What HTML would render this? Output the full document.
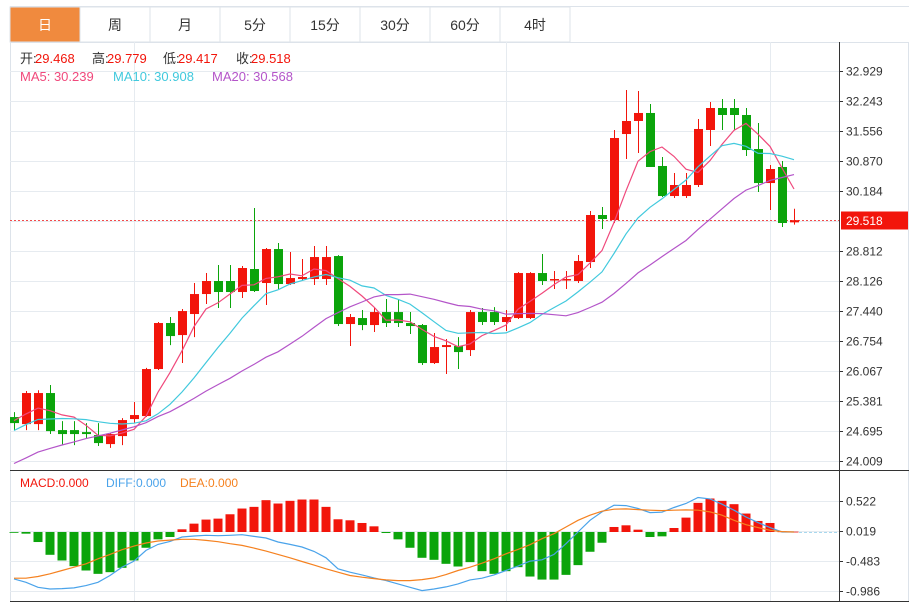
<!DOCTYPE html>
<html><head><meta charset="utf-8"><style>
body{margin:0;background:#fff;width:919px;height:604px;overflow:hidden;font-family:"Liberation Sans","Noto Sans CJK SC",sans-serif}
svg{display:block}
</style></head><body>
<svg id="chart" width="919" height="604" xmlns="http://www.w3.org/2000/svg" font-family="Liberation Sans, Noto Sans CJK SC, sans-serif"></svg>
<script>
const tabLabels=["日","周","月","5分","15分","30分","60分","4时"];
const priceTicks=[32.929,32.243,31.556,30.870,30.184,28.812,28.126,27.440,26.754,26.067,25.381,24.695,24.009];
const macdTicks=[0.522,0.019,-0.483,-0.986];
const openP=[25.016,24.855,24.855,25.565,24.718,24.718,24.672,24.604,24.398,24.581,24.970,25.039,26.114,27.166,26.891,27.372,27.829,28.127,28.127,27.875,28.401,28.081,28.858,28.058,28.172,28.172,28.172,28.698,27.143,27.280,27.120,27.417,27.417,27.166,27.120,26.251,26.617,26.640,26.548,27.417,27.417,27.189,27.280,27.280,28.309,28.149,28.149,28.127,28.561,29.636,29.521,31.488,31.786,31.969,30.757,30.070,30.070,30.322,31.580,32.083,32.083,31.923,31.145,30.367,30.734,29.468];
const highP=[25.130,25.611,25.630,25.748,24.924,24.924,24.878,24.878,24.650,24.990,25.360,26.140,27.189,27.303,27.486,28.081,28.309,28.493,28.493,28.470,29.796,28.881,28.995,28.790,28.630,28.927,28.927,28.720,27.372,27.463,27.532,27.715,27.715,27.417,27.143,26.937,26.800,26.845,27.463,27.509,27.530,27.463,28.330,28.330,28.744,28.355,28.355,28.721,29.727,29.819,31.580,32.495,32.472,32.175,30.962,30.596,30.596,31.832,32.220,32.289,32.289,32.083,31.740,30.780,30.871,29.779];
const lowP=[24.718,24.718,24.718,24.627,24.375,24.375,24.535,24.353,24.310,24.375,24.878,25.016,26.091,26.662,26.251,26.845,27.600,27.509,27.509,27.738,27.875,27.577,27.943,28.035,28.127,28.035,28.035,27.097,26.640,27.005,26.960,27.074,27.074,26.914,26.205,26.228,25.999,26.114,26.411,27.120,27.120,26.983,27.257,27.257,28.035,27.943,27.943,28.081,28.424,29.316,29.453,30.917,31.054,30.734,30.047,30.024,30.024,30.276,31.214,31.580,31.580,30.985,30.162,29.750,29.361,29.417];
const closeP=[24.878,25.565,25.565,24.695,24.627,24.627,24.627,24.421,24.627,24.947,25.062,26.114,27.166,26.868,27.440,27.829,28.127,27.875,27.875,28.424,27.898,28.858,28.058,28.195,28.218,28.675,28.675,27.143,27.303,27.120,27.417,27.166,27.166,27.097,26.251,26.617,26.662,26.502,27.417,27.189,27.189,27.303,28.309,28.309,28.127,28.172,28.172,28.584,29.636,29.544,31.397,31.786,31.969,30.734,30.070,30.322,30.322,31.603,32.083,31.923,31.923,31.122,30.367,30.688,29.453,29.518];
const priorCloses=[23.0,22.9,23.0,23.1,23.2,23.1,23.2,23.4,23.5,23.6,24.2,24.4,24.6,24.5,24.7,24.8,24.9,25.0,25.1];
const macdHist=[-0.011,-0.028,-0.168,-0.382,-0.477,-0.572,-0.645,-0.701,-0.673,-0.600,-0.477,-0.264,-0.123,-0.084,0.045,0.140,0.208,0.224,0.297,0.393,0.421,0.533,0.477,0.522,0.544,0.544,0.421,0.213,0.196,0.151,0.095,-0.017,-0.123,-0.264,-0.432,-0.466,-0.533,-0.578,-0.505,-0.656,-0.701,-0.656,-0.589,-0.746,-0.797,-0.797,-0.718,-0.555,-0.331,-0.180,0.084,0.112,0.039,-0.084,-0.073,0.067,0.241,0.488,0.561,0.522,0.466,0.309,0.185,0.151,0.011,0.006];
const diffV=[-0.786,-0.842,-0.926,-0.954,-0.948,-0.937,-0.898,-0.842,-0.729,-0.589,-0.488,-0.309,-0.208,-0.157,-0.084,-0.067,-0.056,-0.062,-0.056,-0.045,-0.073,-0.101,-0.168,-0.208,-0.252,-0.325,-0.432,-0.617,-0.673,-0.718,-0.769,-0.814,-0.870,-0.926,-0.982,-0.954,-0.920,-0.870,-0.802,-0.774,-0.718,-0.645,-0.572,-0.488,-0.466,-0.376,-0.196,0,0.196,0.337,0.449,0.443,0.393,0.325,0.331,0.410,0.477,0.578,0.555,0.466,0.365,0.252,0.157,0.073,0,0];
const deaV=[-0.774,-0.774,-0.746,-0.701,-0.645,-0.589,-0.533,-0.449,-0.376,-0.297,-0.236,-0.185,-0.151,-0.135,-0.123,-0.123,-0.140,-0.163,-0.196,-0.224,-0.269,-0.320,-0.376,-0.432,-0.494,-0.555,-0.617,-0.673,-0.729,-0.757,-0.780,-0.802,-0.814,-0.814,-0.797,-0.769,-0.713,-0.645,-0.589,-0.522,-0.449,-0.365,-0.292,-0.213,-0.112,-0.028,0.084,0.196,0.281,0.348,0.382,0.387,0.376,0.365,0.359,0.365,0.370,0.365,0.337,0.281,0.196,0.123,0.073,0.028,0.006,0];
const lastPrice=29.518;

const svg=document.getElementById('chart');
const NS='http://www.w3.org/2000/svg';
function mk(tag,attrs,parent){const e=document.createElementNS(NS,tag);for(const k in attrs)e.setAttribute(k,attrs[k]);(parent||svg).appendChild(e);return e;}
function txt(x,y,s,fill,size,parent){const t=mk('text',{x:x,y:y,fill:fill,'font-size':size},parent);t.textContent=s;return t;}
const xOf=i=>14+12*i;
const yP=v=>71+(32.929-v)/0.686*30;
const yM=v=>532-v*59.7;
const RED='#f2150b',GREEN='#0ba40b';

// tabs
const tabs=mk('g',{});


mk('line',{x1:10,y1:6.5,x2:909,y2:6.5,stroke:'#dde3ea'},tabs);
tabLabels.forEach((t,i)=>{
  const g=mk('g',{},tabs);
  
  
  mk('rect',{x:10+70*i,y:7,width:70,height:35,fill:i===0?'#f08a3e':'#fff',stroke:'#dde3ea','stroke-width':1},g);
  const tx=mk('text',{x:45+70*i,y:30,'text-anchor':'middle','font-size':14,fill:i===0?'#fff':'#333'},g);tx.textContent=t;
});
// frame
const frame=mk('g',{});


mk('line',{x1:10.5,y1:42,x2:10.5,y2:602,stroke:'#dde3ea'},frame);
mk('line',{x1:908.5,y1:42,x2:908.5,y2:602,stroke:'#dde3ea'},frame);
mk('line',{x1:10,y1:42.5,x2:909,y2:42.5,stroke:'#dde3ea'},frame);
// grids
const grid=mk('g',{});


for(let k=0;k<14;k++){const y=71+30*k+0.5;mk('line',{x1:10,y1:y,x2:839,y2:y,stroke:'#e6ebf0'},grid);}
[10,41,63].forEach(i=>{mk('line',{x1:xOf(i)+0.5,y1:42,x2:xOf(i)+0.5,y2:602,stroke:'#e6ebf0'},grid);});
macdTicks.forEach(v=>{const y=Math.round(yM(v))+0.5;mk('line',{x1:10,y1:y,x2:839,y2:y,stroke:'#e6ebf0'},grid);});
// axes
const axis=mk('g',{});


mk('line',{x1:839.5,y1:42,x2:839.5,y2:602,stroke:'#333'},axis);
mk('line',{x1:10,y1:470.5,x2:909,y2:470.5,stroke:'#333'},axis);
mk('line',{x1:10,y1:601.5,x2:909,y2:601.5,stroke:'#333'},axis);
priceTicks.forEach(v=>{const y=Math.round(yP(v));mk('line',{x1:839,y1:y+0.5,x2:843,y2:y+0.5,stroke:'#333'},axis);
  txt(846,y+4.5,v.toFixed(3),'#333',12,axis);});
macdTicks.forEach(v=>{const y=Math.round(yM(v));mk('line',{x1:839,y1:y+0.5,x2:843,y2:y+0.5,stroke:'#333'},axis);
  txt(846,y+4.5,v.toFixed(3),'#333',12,axis);});
// last price
const lp=mk('g',{});


const ly=Math.round(yP(lastPrice))+0.5;
mk('line',{x1:10,y1:ly,x2:839,y2:ly,stroke:'#f24a4a','stroke-dasharray':'2,2'},lp);
mk('rect',{x:841,y:ly-9,width:67,height:18,fill:RED},lp);
txt(846,ly+4.5,lastPrice.toFixed(3),'#fff',12,lp);
// candles
const cg=mk('g',{});


closeP.forEach((c,i)=>{
  const o=openP[i],up=c>=o,col=up?RED:GREEN,x=xOf(i);
  const g=mk('g',{},cg);
  
  
  mk('line',{x1:x+0.5,y1:yP(highP[i]),x2:x+0.5,y2:yP(lowP[i]),stroke:col},g);
  const t=yP(Math.max(o,c)),b=yP(Math.min(o,c));
  mk('rect',{x:x-4,y:t,width:9,height:Math.max(b-t,1.5),fill:col},g);
});
// moving averages
function ma(n){const all=priorCloses.concat(closeP),off=priorCloses.length;return closeP.map((_,i)=>{let s=0;for(let k=0;k<n;k++)s+=all[off+i-k];return s/n;});}
[[5,'#f0497c','ma5-line'],[10,'#41c9dd','ma10-line'],[20,'#b455c9','ma20-line']].forEach(([n,col,name])=>{
  const vals=ma(n);
  const p=mk('polyline',{points:vals.map((v,i)=>xOf(i)+','+yP(v).toFixed(1)).join(' '),fill:'none',stroke:col,'stroke-width':1.2});
  
  
});
// legend
const lg=mk('g',{});


const n=closeP.length-1;
[['开:',20,openP[n]],['高:',92,highP[n]],['低:',163,lowP[n]],['收:',236,closeP[n]]].forEach(([lab,x,v])=>{
  txt(x,63,lab,'#333',13,lg);
  txt(x+15,63,v.toFixed(3),RED,13,lg);
});
txt(20,81,'MA5: 30.239','#f0497c',13,lg);
txt(113,81,'MA10: 30.908','#41c9dd',13,lg);
txt(212,81,'MA20: 30.568','#b455c9',13,lg);
// MACD
const mg=mk('g',{});


macdHist.forEach((v,i)=>{
  const y0=yM(0),y1=yM(v);
  const r=mk('rect',{x:xOf(i)-4.5,y:Math.min(y0,y1),width:9,height:Math.max(Math.abs(y1-y0),0.8),fill:v>=0?RED:GREEN},mg);
  
  
});
const zl=mk('line',{x1:xOf(n)+5,y1:yM(0)+0.5,x2:839,y2:yM(0)+0.5,stroke:'#a8d8ee','stroke-dasharray':'3,2'});


[[diffV,'#4aa3ea','diff-line'],[deaV,'#f5811f','dea-line']].forEach(([arr,col,name])=>{
  const p=mk('polyline',{points:arr.map((v,i)=>xOf(i)+','+yM(v).toFixed(1)).join(' '),fill:'none',stroke:col,'stroke-width':1.2});
  
  
});
const ml=mk('g',{});


txt(20,487,'MACD:0.000',RED,12,ml);
txt(106,487,'DIFF:0.000','#4aa3ea',12,ml);
txt(180,487,'DEA:0.000','#f5811f',12,ml);
</script>
</body></html>
